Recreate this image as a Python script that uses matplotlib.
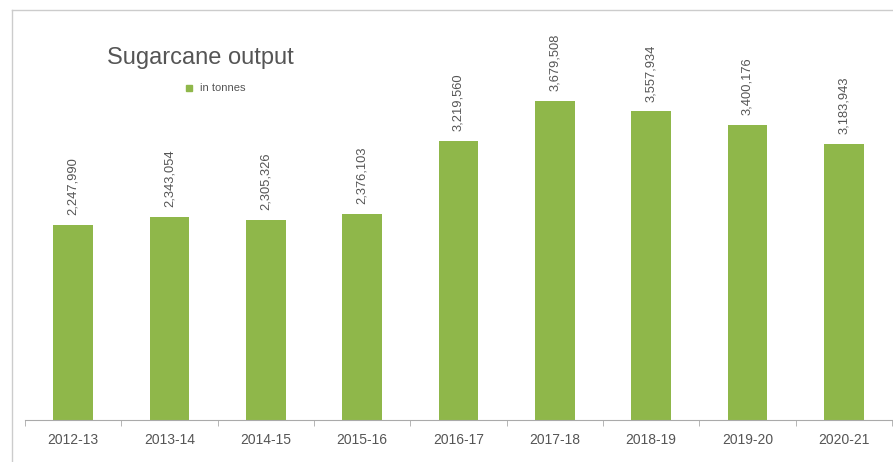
import matplotlib.pyplot as plt
from matplotlib.patches import Rectangle
from matplotlib.lines import Line2D

# Data
years = ["2012-13", "2013-14", "2014-15", "2015-16", "2016-17",
         "2017-18", "2018-19", "2019-20", "2020-21"]
output_tonnes = [2247990, 2343054, 2305326, 2376103, 3219560,
                 3679508, 3557934, 3400176, 3183943]

bar_color = "#8fb74a"
text_color = "#555555"
plt.rcParams["font.family"] = ["Liberation Sans Narrow", "Liberation Sans", "DejaVu Sans"]

fig = plt.figure(figsize=(8.93, 4.62), dpi=100)
ax = fig.add_axes([25 / 893, 42 / 462, 867 / 893, 410 / 462])

x = range(len(years))
bars = ax.bar(x, output_tonnes, width=0.41, color=bar_color)
ax.set_xlim(-0.5, len(years) - 0.5)
ax.set_ylim(0, 4727000)

# value labels, rotated above each bar
for rect, val in zip(bars, output_tonnes):
    ax.annotate(f"{val:,}", (rect.get_x() + rect.get_width() / 2, rect.get_height()),
                xytext=(0, 7), textcoords="offset points", rotation=90,
                ha="center", va="bottom", fontsize=9.3, color=text_color)

# axes styling
for s in ["top", "right", "left"]:
    ax.spines[s].set_visible(False)
ax.spines["bottom"].set_color("#aaaaaa")
ax.set_yticks([])
ax.set_xticks(list(x))
ax.set_xticklabels(years, fontsize=10, color=text_color)
ax.tick_params(axis="x", which="major", length=0, pad=9)
ax.set_xticks([i - 0.5 for i in range(len(years) + 1)], minor=True)
ax.tick_params(axis="x", which="minor", length=4, color="#aaaaaa", direction="out")

# outer frame lines (top and left)
fig.add_artist(Line2D([12 / 893, 1.0], [1 - 10 / 462, 1 - 10 / 462],
                      color="#cccccc", lw=1, transform=fig.transFigure))
fig.add_artist(Line2D([12 / 893, 12 / 893], [0, 1 - 10 / 462],
                      color="#cccccc", lw=1, transform=fig.transFigure))

# title and legend
fig.text(200 / 893, 1 - 58 / 462, "Sugarcane output", ha="center", va="center",
         fontsize=17, color=text_color)
fig.add_artist(Rectangle((186 / 893, 1 - 91 / 462), 6 / 893, 6 / 462,
                         color=bar_color, transform=fig.transFigure))
fig.text(200 / 893, 1 - 88 / 462, "in tonnes", ha="left", va="center",
         fontsize=8, color=text_color)

fig.savefig("out.png", dpi=100)
